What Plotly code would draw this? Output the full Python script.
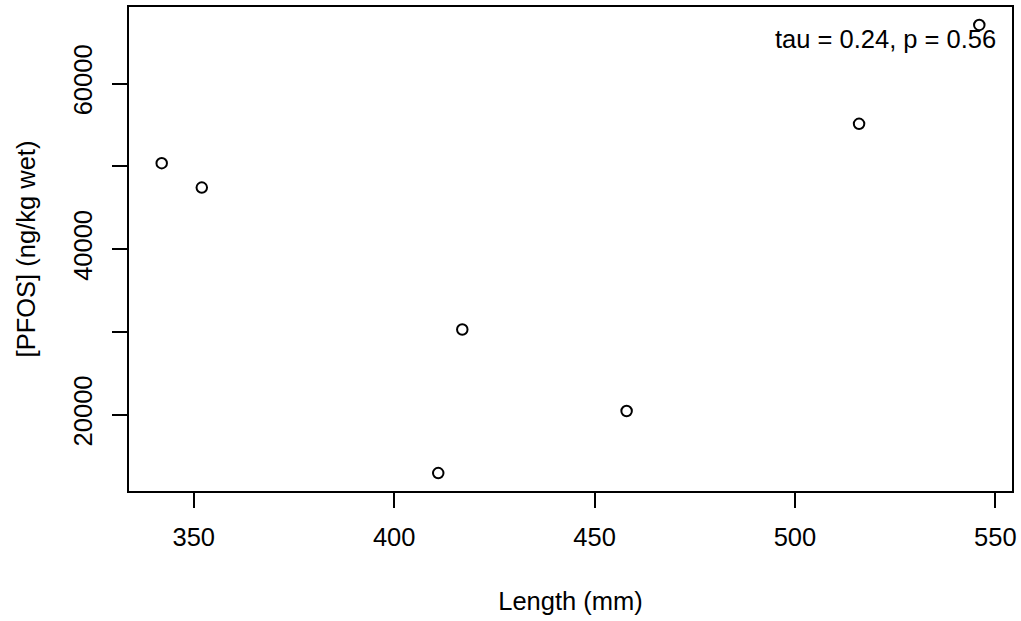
import plotly.graph_objects as go

length_mm = [342, 352, 411, 417, 458, 516, 546]
pfos = [50400, 47450, 12950, 30300, 20450, 55150, 67100]

y_tick_vals = [20000, 30000, 40000, 50000, 60000]
y_tick_text = ["20000", "", "40000", "", "60000"]
x_tick_vals = [350, 400, 450, 500, 550]
annot_text = "tau = 0.24, p = 0.56"


def expand(vals, f=0.04):
    lo, hi = min(vals), max(vals)
    d = (hi - lo) * f
    return [lo - d, hi + d]


FONT = "Liberation Sans, Arial, sans-serif"
FS = 25.5
fig = go.Figure()
fig.add_trace(go.Scatter(
    x=length_mm, y=pfos, mode="markers",
    marker=dict(symbol="circle-open", size=10.5, color="black",
                line=dict(color="black", width=2)),
    showlegend=False, hoverinfo="x+y",
))

axis_common = dict(
    showline=True, linecolor="black", linewidth=1.5, mirror=True,
    showgrid=False, zeroline=False, ticks="outside", ticklen=15,
    tickwidth=1.5, tickcolor="black",
    tickfont=dict(family=FONT, size=FS, color="black"),
)

fig.update_layout(
    width=1021, height=621,
    margin=dict(l=129, r=9, t=7, b=130, autoexpand=False),
    paper_bgcolor="white", plot_bgcolor="white",
    font=dict(family=FONT, size=FS, color="black"),
    xaxis=dict(range=expand(length_mm), tickvals=x_tick_vals,
               ticklabelstandoff=8,
               title=dict(text="Length (mm)", standoff=42,
                          font=dict(family=FONT, size=FS, color="black")),
               **axis_common),
    yaxis=dict(range=expand(pfos), tickvals=y_tick_vals, ticktext=y_tick_text,
               tickangle=-90, ticklabelstandoff=10,
               title=dict(text="[PFOS] (ng/kg wet)", standoff=26,
                          font=dict(family=FONT, size=FS, color="black")),
               **axis_common),
    annotations=[dict(
        text=annot_text, xref="paper", yref="paper", x=0.9838, y=0.934,
        xanchor="right", yanchor="middle", showarrow=False,
        font=dict(family=FONT, size=FS, color="black"),
    )],
)

fig.write_html("out.html")
